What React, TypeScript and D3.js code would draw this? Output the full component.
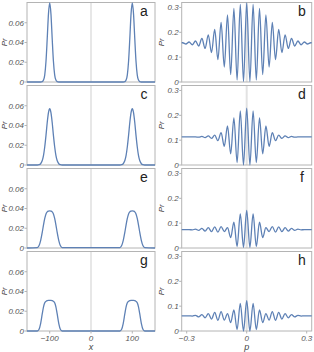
import React, { useEffect, useRef } from "react";
import * as d3 from "d3";

// left column: Pr(x) read at offsets from the two peak centres (x = -100, +100)
const xOffsets = [0, 3, 6, 9, 12, 15, 18, 22, 26, 30];
const peakCenters = [-100, 100];
const xEnds = [-155, 155];

const prA = [0.08, 0.069, 0.044, 0.021, 0.0073, 0.0019, 0.0004, 0, 0, 0];
const prC = [0.057, 0.053, 0.043, 0.03, 0.0185, 0.0098, 0.0045, 0.0013, 0.0003, 0];
const prE = [0.0375, 0.0373, 0.0366, 0.0345, 0.03, 0.0235, 0.016, 0.0075, 0.0022, 0.0004];
const prG = [0.031, 0.031, 0.0308, 0.03, 0.0285, 0.0245, 0.0175, 0.0075, 0.0015, 0];

// right column: Pr(p) read at the maxima / minima (p >= 0, mirrored)
const pExtrema = [
  0, 0.016, 0.032, 0.048, 0.064, 0.08, 0.096, 0.112, 0.128, 0.144, 0.16,
  0.176, 0.192, 0.208, 0.224, 0.24, 0.256, 0.272, 0.288, 0.304, 0.32,
];
const prB = [
  0.318, 0.002, 0.312, 0.008, 0.296, 0.03, 0.27, 0.06, 0.24, 0.09, 0.212,
  0.118, 0.19, 0.135, 0.175, 0.145, 0.165, 0.15, 0.161, 0.153, 0.158,
];
const prD = [
  0.229, 0.0, 0.218, 0.01, 0.19, 0.045, 0.157, 0.075, 0.13, 0.098, 0.12,
  0.107, 0.117, 0.11, 0.115, 0.112, 0.113, 0.113, 0.113, 0.113, 0.113,
];
const prF = [
  0.151, 0.003, 0.137, 0.006, 0.104, 0.042, 0.082, 0.066, 0.086, 0.064, 0.085,
  0.066, 0.082, 0.068, 0.079, 0.071, 0.076, 0.073, 0.074, 0.074, 0.074,
];
const prH = [
  0.122, 0.0, 0.111, 0.006, 0.085, 0.034, 0.07, 0.044, 0.078, 0.043, 0.075,
  0.048, 0.07, 0.053, 0.066, 0.057, 0.063, 0.06, 0.061, 0.061, 0.061,
];

const leftLetters = ["a", "c", "e", "g"];
const rightLetters = ["b", "d", "f", "h"];
const leftYTicks = [0, 0.02, 0.04, 0.06];
const rightYTicks = [0, 0.1, 0.2, 0.3];
const xTicks = [-100, 0, 100];
const pTicks = [-0.3, 0, 0.3];

const buildLeft = (profile) => {
  const pts = [[xEnds[0], 0]];
  peakCenters.forEach((c) => {
    for (let i = xOffsets.length - 1; i > 0; i--) pts.push([c - xOffsets[i], profile[i]]);
    for (let i = 0; i < xOffsets.length; i++) pts.push([c + xOffsets[i], profile[i]]);
  });
  pts.push([xEnds[1], 0]);
  return pts;
};

const buildRight = (values) => {
  const pts = [[-0.33, values[values.length - 1]]];
  for (let i = pExtrema.length - 1; i > 0; i--) pts.push([-pExtrema[i], values[i]]);
  for (let i = 0; i < pExtrema.length; i++) pts.push([pExtrema[i], values[i]]);
  pts.push([0.33, values[values.length - 1]]);
  return pts;
};

const App = () => {
  const ref = useRef(null);

  useEffect(() => {
    const svg = d3.select(ref.current);
    svg.selectAll("*").remove();

    const rowTop = (i) => 2.5 + 83 * i;
    const rowH = 79.5;
    const blue = "#5e81b5";
    const frame = "#b4b4b4";
    const font = "'Liberation Sans', Arial, sans-serif";

    const columns = [
      {
        x0: 27, x1: 155, domain: [-155, 155], yMax: 0.0805, letters: leftLetters,
        series: [prA, prC, prE, prG].map(buildLeft), yTicks: leftYTicks,
        yFmt: (d) => (d === 0 ? "0" : d3.format(".2f")(d)),
        xTicks: xTicks, xFmt: (d) => d3.format("d")(d), xLabel: "x",
        zeroW: 1, zeroC: "#cfcfcf", letterX: 144, prX: 4.5,
      },
      {
        x0: 181.7, x1: 311.7, domain: [-0.325, 0.325], yMax: 0.32, letters: rightLetters,
        series: [prB, prD, prF, prH].map(buildRight), yTicks: rightYTicks,
        yFmt: (d) => (d === 0 ? "0" : d3.format(".1f")(d)),
        xTicks: pTicks, xFmt: (d) => (d === 0 ? "0" : d3.format(".1f")(d)), xLabel: "p",
        zeroW: 2, zeroC: "#e2e2e2", letterX: 302, prX: 161.5,
      },
    ];

    columns.forEach((col, ci) => {
      const x = d3.scaleLinear().domain(col.domain).range([col.x0, col.x1]);
      col.series.forEach((pts, ri) => {
        const top = rowTop(ri);
        const y = d3.scaleLinear().domain([0, col.yMax]).range([top + rowH, top]);
        const g = svg.append("g");
        const clipId = `clip-${ci}-${ri}`;
        g.append("clipPath").attr("id", clipId)
          .append("rect").attr("x", col.x0).attr("y", top - 1)
          .attr("width", col.x1 - col.x0).attr("height", rowH + 2);

        g.append("line")
          .attr("x1", x(0)).attr("x2", x(0)).attr("y1", top).attr("y2", top + rowH)
          .attr("stroke", col.zeroC).attr("stroke-width", col.zeroW);

        g.append("rect")
          .attr("x", col.x0).attr("y", top)
          .attr("width", col.x1 - col.x0).attr("height", rowH)
          .attr("fill", "none").attr("stroke", frame).attr("stroke-width", 1);

        col.yTicks.forEach((t) => {
          g.append("line")
            .attr("x1", col.x0 - 2.5).attr("x2", col.x0)
            .attr("y1", y(t)).attr("y2", y(t))
            .attr("stroke", frame);
          g.append("text")
            .attr("x", col.x0 - 3).attr("y", y(t)).attr("dy", "0.35em")
            .attr("text-anchor", "end").attr("font-family", font)
            .attr("font-style", "italic").attr("font-size", 8).attr("fill", "#555")
            .text(col.yFmt(t));
        });

        const line = d3.line().x((d) => x(d[0])).y((d) => y(d[1])).curve(d3.curveMonotoneX);
        g.append("path")
          .attr("d", line(pts)).attr("clip-path", `url(#${clipId})`)
          .attr("fill", "none").attr("stroke", blue).attr("stroke-width", 1.3);

        g.append("text")
          .attr("x", col.letterX).attr("y", top + 13.5)
          .attr("text-anchor", "middle").attr("font-family", font)
          .attr("font-size", 14).attr("fill", "#222")
          .text(col.letters[ri]);

        g.append("text")
          .attr("transform", `translate(${col.prX},${top + rowH / 2}) rotate(-90)`)
          .attr("text-anchor", "middle").attr("dy", "0.35em")
          .attr("font-family", font).attr("font-style", "italic")
          .attr("font-size", 8).attr("fill", "#444")
          .text("Pr");

        if (ri === col.series.length - 1) {
          col.xTicks.forEach((t) => {
            g.append("line")
              .attr("x1", x(t)).attr("x2", x(t))
              .attr("y1", top + rowH).attr("y2", top + rowH + 2.5)
              .attr("stroke", frame);
            g.append("text")
              .attr("x", x(t)).attr("y", top + rowH + 9.5)
              .attr("text-anchor", "middle").attr("font-family", font)
              .attr("font-style", "italic").attr("font-size", 8).attr("fill", "#555")
              .text(col.xFmt(t));
          });
          g.append("text")
            .attr("x", x(0)).attr("y", top + rowH + 18.5)
            .attr("text-anchor", "middle").attr("font-family", font)
            .attr("font-style", "italic").attr("font-size", 9).attr("fill", "#444")
            .text(col.xLabel);
        }
      });
    });
  }, []);

  return (
    <svg
      ref={ref}
      width={314}
      height={352}
      style={{ position: "absolute", left: 0, top: 0, background: "#fff" }}
    ></svg>
  );
};

export default App;
